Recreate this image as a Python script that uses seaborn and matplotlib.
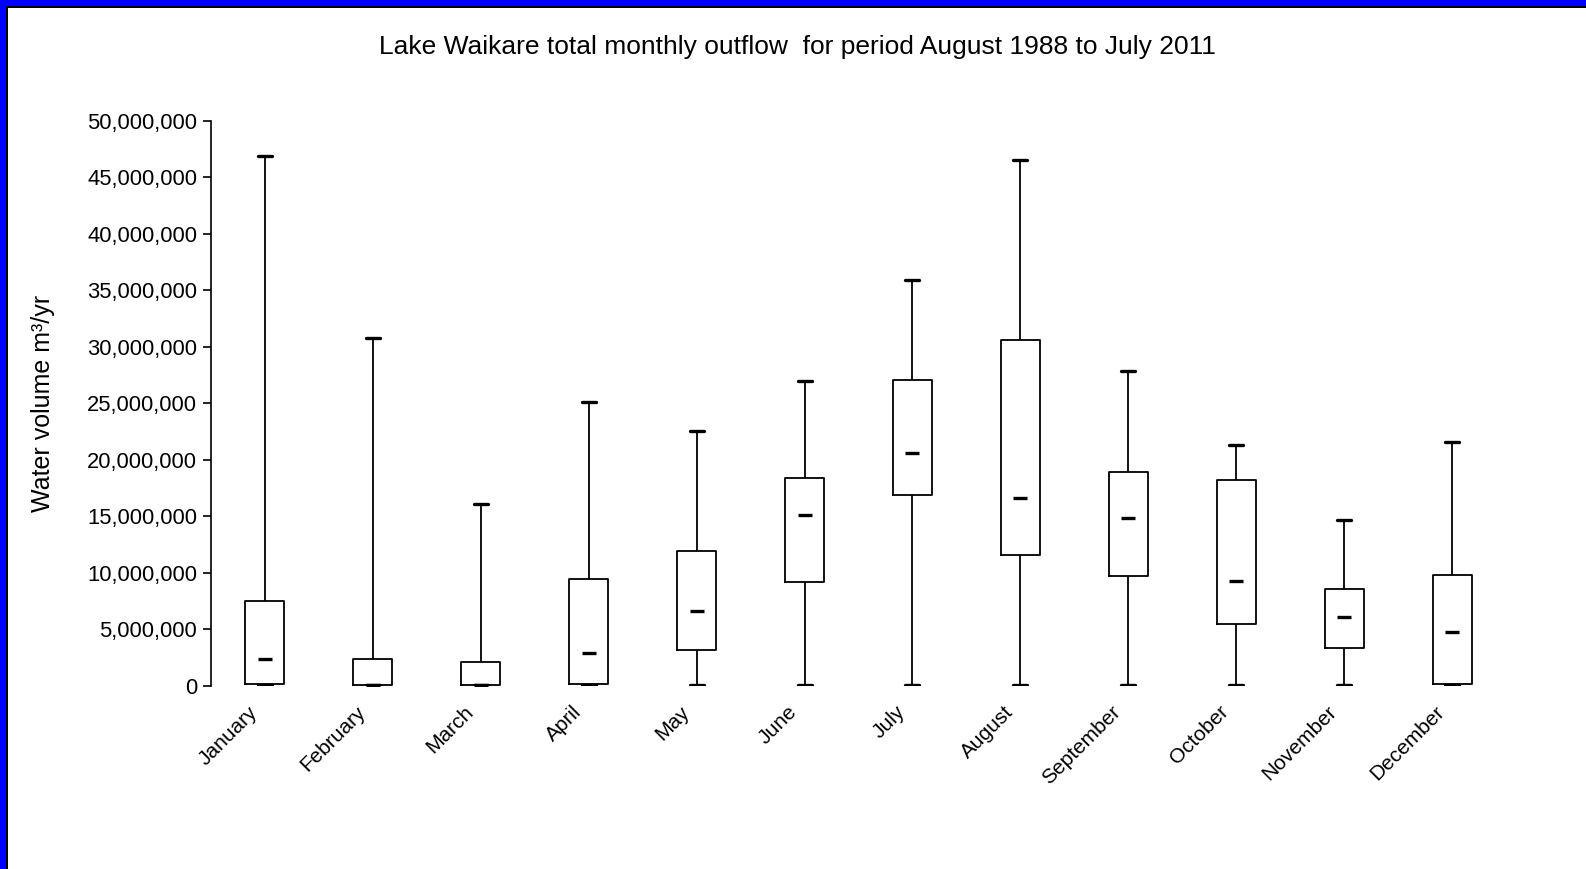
import numpy as np
import pandas as pd
import matplotlib
matplotlib.use("Agg")
import matplotlib.pyplot as plt
import matplotlib.ticker as mticker
import matplotlib.transforms as mtransforms
from matplotlib.patches import Rectangle
import seaborn as sns

months = ["January", "February", "March", "April", "May", "June", "July",
          "August", "September", "October", "November", "December"]
v_min = [0.1e6, 0.1e6, 0.1e6, 0.1e6, 0.1e6, 0.1e6, 0.1e6, 0.1e6, 0.1e6, 0.1e6, 0.1e6, 0.1e6]
v_q1 = [0.2e6, 0.2e6, 0.2e6, 0.2e6, 3.2e6, 9.2e6, 16.9e6, 11.6e6, 9.7e6, 5.5e6, 3.4e6, 0.2e6]
v_med = [2.4e6, 0.1e6, 0.1e6, 2.9e6, 6.6e6, 15.1e6, 20.6e6, 16.6e6, 14.9e6, 9.3e6, 6.1e6, 4.8e6]
v_q3 = [7.5e6, 2.4e6, 2.15e6, 9.5e6, 11.9e6, 18.4e6, 27.1e6, 30.6e6, 18.9e6, 18.2e6, 8.6e6, 9.8e6]
v_max = [46.9e6, 30.8e6, 16.1e6, 25.1e6, 22.6e6, 27.0e6, 35.9e6, 46.5e6, 27.9e6, 21.3e6, 14.7e6, 21.6e6]
yticks = [0, 5e6, 10e6, 15e6, 20e6, 25e6, 30e6, 35e6, 40e6, 45e6, 50e6]

rows = []
for i, m in enumerate(months):
    for v in (v_min[i], v_q1[i], v_med[i], v_q3[i], v_max[i]):
        rows.append({"month": m, "volume": v})
df = pd.DataFrame(rows)

sns.set_style("ticks")
plt.rcParams["font.family"] = ["Liberation Sans", "DejaVu Sans"]
plt.rcParams["text.color"] = "black"
plt.rcParams["axes.labelcolor"] = "black"
plt.rcParams["xtick.color"] = "black"
plt.rcParams["ytick.color"] = "black"

fig = plt.figure(figsize=(15.86, 8.69), dpi=100)
ax = fig.add_axes([0.133, 0.2106, 0.8166, 0.6504])

sns.boxplot(data=df, x="month", y="volume", order=months, ax=ax,
            whis=(0, 100), width=0.36, fill=False, color="black",
            linewidth=1.3, showfliers=False, capwidths=0.13,
            medianprops={"visible": False},
            capprops={"linewidth": 2.4, "color": "black"},
            whiskerprops={"linewidth": 1.3, "color": "black"},
            boxprops={"linewidth": 1.3, "color": "black"})

sns.scatterplot(x=np.arange(len(months)), y=v_med, ax=ax, marker="_",
                s=90, color="black", linewidth=2.4, legend=False, zorder=5)

ax.set_xlim(-0.5, len(months) - 0.5)
ax.set_ylim(0, 50e6)
ax.set_yticks(yticks)
ax.yaxis.set_major_formatter(mticker.FuncFormatter(lambda v, p: f"{int(v):,}"))
ax.set_xticks(np.arange(len(months)))
ax.set_xticklabels(months, rotation=45, ha="right", rotation_mode="anchor")
ax.tick_params(axis="x", length=0, pad=6, labelsize=15, colors="black")
ax.tick_params(axis="y", length=6, width=1.2, pad=4, labelsize=15.8,
               direction="out", colors="black")
offset = mtransforms.ScaledTranslation(-17 / 100, -8 / 100, fig.dpi_scale_trans)
for lab in ax.get_xticklabels():
    lab.set_transform(lab.get_transform() + offset)
for s in ("top", "right", "bottom"):
    ax.spines[s].set_visible(False)
ax.spines["left"].set_linewidth(1.2)
ax.spines["left"].set_color("black")
ax.set_xlabel("")
ax.set_ylabel("Water volume m³/yr", fontsize=18, labelpad=23, color="black")

fig.text(0.503, 0.946, "Lake Waikare total monthly outflow  for period August 1988 to July 2011",
         ha="center", va="center", fontsize=19, color="black")

# blue frame on left and top edges
W, H = 1586, 869
fig.patches.append(Rectangle((0, 0), 6 / W, 1, transform=fig.transFigure,
                             facecolor="#0000ff", edgecolor="none", zorder=10))
fig.patches.append(Rectangle((6 / W, 0), 2 / W, 1 - 6 / H, transform=fig.transFigure,
                             facecolor="black", edgecolor="none", zorder=10))
fig.patches.append(Rectangle((0, 1 - 6 / H), 1, 6 / H, transform=fig.transFigure,
                             facecolor="#0000ff", edgecolor="none", zorder=10))
fig.patches.append(Rectangle((6 / W, 1 - 8 / H), 1, 2 / H, transform=fig.transFigure,
                             facecolor="black", edgecolor="none", zorder=10))

fig.savefig("out.png", dpi=100)
